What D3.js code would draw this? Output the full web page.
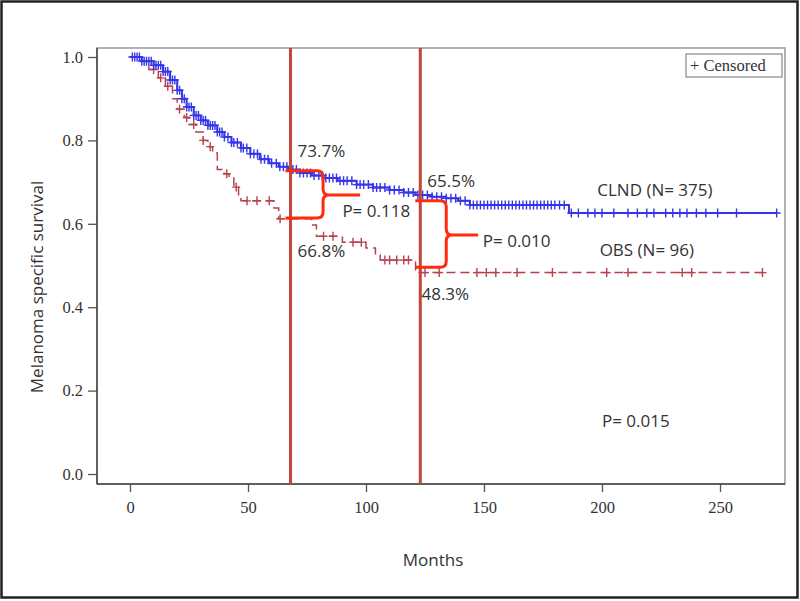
<!DOCTYPE html>
<html><head><meta charset="utf-8">
<script src="https://cdn.jsdelivr.net/npm/d3@7"></script>
<style>body{margin:0;background:#fff}svg{display:block}</style>
</head><body>
<svg id="c" width="800" height="601"></svg>
<script>
// ---- data ----
const xTicks = [0, 50, 100, 150, 200, 250];
const yTicks = [0.0, 0.2, 0.4, 0.6, 0.8, 1.0];
const clndTimes = [0,5,10,14,17,20,22,24,27,30,33,37,40,43,47,51,55,59,63,67,72,77,82,88,96,103,110,116,121,128,134,139,144,186];
const clndSurv  = [1.0,0.99,0.98,0.965,0.945,0.92,0.90,0.88,0.86,0.848,0.836,0.82,0.808,0.795,0.782,0.768,0.755,0.745,0.737,0.73,0.722,0.716,0.71,0.703,0.694,0.687,0.681,0.675,0.669,0.665,0.661,0.655,0.645,0.626];
const clndEnd = 274;
const clndCensor = [1,2,3,4,5,6,7,8,9,10,11,12,13,14,15,16,17,18,19,20,21,22,23,24,25,26,27,28,29,30,31,32,33,34,35,36,37,38,39,40,41.5,43,44,45.5,47,48,49.5,51,52.5,54,55.5,57,58.5,60,62,63.5,65,66.5,69,70.5,72,73.5,75,76.5,78,80,81.5,83,84.5,86,87.5,89,90.5,92,94,96,97.5,99,101,103,104.5,106,108,110,112,114,116,118,120,122,124,126,128,130,132,134,136,138,140,142,144,145.5,147,148.5,150,151.5,153,154.5,156,157.5,159,160.5,162,163.5,165,166.5,168,169.5,171,172.5,174,175.5,177,178.5,180,182,184,187,190,194,197,200,205,211,215,219,222,227,230,233,236,240,244,249,257,274];
const obsTimes = [0,4,8,12,15,18,20,23,25,28,31,33,35,37,40,42,44,46,47,61,63,77,79,90,100,104,106,121];
const obsSurv  = [1.0,0.99,0.97,0.95,0.93,0.9,0.875,0.855,0.838,0.82,0.8,0.785,0.77,0.73,0.72,0.71,0.688,0.665,0.655,0.638,0.612,0.597,0.57,0.556,0.542,0.525,0.513,0.483];
const obsEnd = 268;
const obsCensor = [10,13,16,21,24,27,31,34,41,45,49.6,53.8,59,63.6,68,82,86,94.5,98,108,110,113,116,118,125,131,147,151,155,164,179,202,211,234,238,268];
const landmarkMonths = [68, 123];
// braces: [month, top value, bottom value, tip value, vertical month, tip month]
const braces = [[68, 0.727, 0.614, 0.669, 81.8, 97.5],[123, 0.655, 0.496, 0.573, 134, 147.5]];
const labels = [
  {t:"73.7%", m:71, v:0.760}, {t:"66.8%", m:71, v:0.520},
  {t:"65.5%", m:126, v:0.688}, {t:"48.3%", m:123.5, v:0.417},
  {t:"P= 0.118", m:90, v:0.616}, {t:"P= 0.010", m:149.5, v:0.545},
  {t:"CLND (N= 375)", m:198, v:0.667}, {t:"OBS (N= 96)", m:199, v:0.523},
  {t:"P= 0.015", m:200, v:0.113}
];

// ---- drawing ----
const svg = d3.select("#c");
const x = d3.scaleLinear().domain([0,250]).range([130,720]);
const y = d3.scaleLinear().domain([0,1]).range([474,57]);
const L=97, R=785, T=48, B=484;

svg.append("rect").attr("x",1.5).attr("y",1.5).attr("width",796).attr("height",596)
  .attr("fill","none").attr("stroke","#222").attr("stroke-width",2.5);
svg.append("rect").attr("x",L).attr("y",T).attr("width",R-L).attr("height",B-T)
  .attr("fill","none").attr("stroke","#999").attr("stroke-width",1.5);

const xa = svg.append("g").attr("transform",`translate(0,${B})`)
  .call(d3.axisBottom(x).tickValues(xTicks).tickFormat(d3.format("d")).tickSize(8).tickPadding(9));
const ya = svg.append("g").attr("transform",`translate(${L},0)`)
  .call(d3.axisLeft(y).tickValues(yTicks).tickFormat(d3.format(".1f")).tickSize(9).tickPadding(5));
[xa,ya].forEach(g=>{
  g.select(".domain").remove();
  g.selectAll("line").attr("stroke","#555").attr("stroke-width",1.3);
  g.selectAll("text").attr("font-family","'Liberation Serif', serif").attr("font-size",16.5).attr("fill","#333");
});
svg.append("line").attr("x1",L).attr("x2",L).attr("y1",T).attr("y2",B).attr("stroke","#444").attr("stroke-width",1.5);
svg.append("line").attr("x1",L).attr("x2",R).attr("y1",B).attr("y2",B).attr("stroke","#444").attr("stroke-width",1.5);

svg.append("text").attr("x",433).attr("y",566).attr("text-anchor","middle")
  .attr("font-family","'Open Sans', sans-serif").attr("font-size",17).attr("fill","#333").text("Months");
svg.append("text").attr("transform","translate(43,287) rotate(-90)").attr("text-anchor","middle")
  .attr("font-family","'Open Sans', sans-serif").attr("font-size",17).attr("fill","#333").text("Melanoma specific survival");

// legend
svg.append("rect").attr("x",686).attr("y",54).attr("width",96).attr("height",23)
  .attr("fill","#fff").attr("stroke","#888").attr("stroke-width",1.2);
svg.append("text").attr("x",690).attr("y",71).attr("font-family","'Liberation Serif', serif")
  .attr("font-size",16.5).attr("fill","#333").text("+ Censored");

function stepAt(ts, ss, t){ let v=ss[0]; for(let i=0;i<ts.length;i++){ if(ts[i]<=t) v=ss[i]; } return v; }
const line = d3.line().x(d=>x(d[0])).y(d=>y(d[1])).curve(d3.curveStepAfter);

function drawGroup(ts, ss, end, cens, color, dash, sw){
  const pts = ts.map((t,i)=>[t,ss[i]]).concat([[end, ss[ss.length-1]]]);
  svg.append("path").attr("d",line(pts)).attr("fill","none").attr("stroke",color)
    .attr("stroke-width",sw).attr("stroke-dasharray",dash);
  const g = svg.append("g");
  cens.forEach(t=>{
    const cx=x(t), cy=y(stepAt(ts,ss,t));
    g.append("path").attr("d",`M${cx-4},${cy}H${cx+4}M${cx},${cy-4.5}V${cy+4.5}`)
      .attr("stroke",color).attr("stroke-width",1.4).attr("fill","none");
  });
}
drawGroup(obsTimes, obsSurv, obsEnd, obsCensor, "#b8404f", "9,5", 1.5);
drawGroup(clndTimes, clndSurv, clndEnd, clndCensor, "#3434e8", null, 2);

// landmark lines
landmarkMonths.forEach(m=>{
  svg.append("line").attr("x1",x(m)).attr("x2",x(m)).attr("y1",T).attr("y2",B)
    .attr("stroke","#c2453c").attr("stroke-width",3);
});
// braces
braces.forEach(b=>{
  const x0=x(b[0])-5, xv=x(b[4]), xt=x(b[5]), yt=y(b[1]), yb=y(b[2]), ym=y(b[3]), r=6;
  const d = `M${x0},${yt}H${xv-r}Q${xv},${yt} ${xv},${yt+r}V${ym-r}Q${xv},${ym} ${xv+r},${ym}H${xt}`+
            `M${xv+r},${ym}Q${xv},${ym} ${xv},${ym+r}V${yb-r}Q${xv},${yb} ${xv-r},${yb}H${x0}`;
  svg.append("path").attr("d",d).attr("fill","none").attr("stroke","#ff2a10").attr("stroke-width",3);
});
// text annotations
labels.forEach(l=>{
  svg.append("text").attr("x",x(l.m)).attr("y",y(l.v))
    .attr("font-family","'Open Sans', sans-serif").attr("font-size",17).attr("fill","#333").text(l.t);
});
</script>
</body></html>
